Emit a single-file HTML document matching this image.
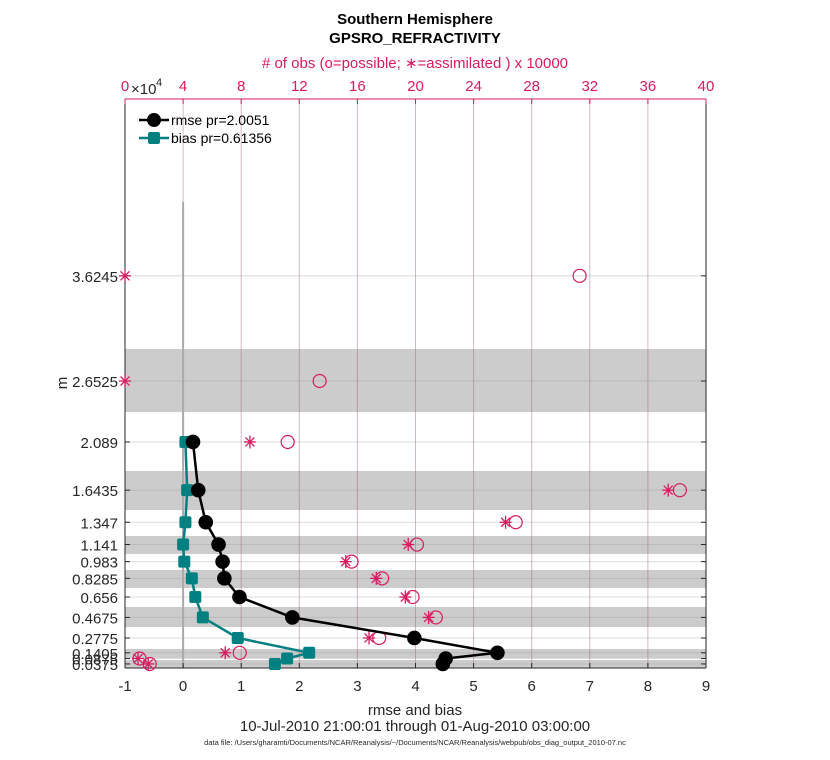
<!DOCTYPE html>
<html><head><meta charset="utf-8"><style>
body{margin:0;background:#fff;}
svg{display:block;font-family:"Liberation Sans",Arial,sans-serif;}
</style></head><body>
<svg id="chart" width="830" height="760" viewBox="0 0 830 760"></svg>
<script>
const levels=[3.6245,2.6525,2.089,1.6435,1.347,1.141,0.983,0.8285,0.656,0.4675,0.2775,0.1405,0.0875,0.0375];
const levelLabels=["3.6245","2.6525","2.089","1.6435","1.347","1.141","0.983","0.8285","0.656","0.4675","0.2775","0.1405","0.0875","0.0375"];
const rmse=[null,null,0.17,0.26,0.39,0.61,0.68,0.71,0.97,1.88,3.98,5.41,4.52,4.47];
const bias=[null,null,0.04,0.07,0.04,0.0,0.02,0.15,0.21,0.34,0.94,2.17,1.79,1.58];
const obsPossible=[31.3,13.4,11.2,38.2,26.9,20.1,15.6,17.7,19.8,21.4,17.5,7.9,1.0,1.7];
const obsAssim=[0,0,8.6,37.4,26.2,19.5,15.2,17.3,19.3,20.9,16.8,6.9,0.9,1.6];
const bandLo=[2.365,1.46,1.054,0.739,0.379,0.092,0.0];
const bandHi=[2.948,1.821,1.22,0.906,0.564,0.176,0.074];
const xTicks=[-1,0,1,2,3,4,5,6,7,8,9];
const topTicks=[0,4,8,12,16,20,24,28,32,36,40];

const L=125,R=706,T=99,B=668;
const X=v=>L+(v+1)/10*(R-L);
const XT=v=>L+v/40*(R-L);
const Y=v=>B-v*108.2;
const svg=document.getElementById('chart');
const NS='http://www.w3.org/2000/svg';
function mk(tag,attrs,parent){const e=document.createElementNS(NS,tag);for(const k in attrs)e.setAttribute(k,attrs[k]);(parent||svg).appendChild(e);return e;}
const PINK='#d81b60';

bandLo.forEach((lo,i)=>{const r=mk('rect',{x:L,y:Y(bandHi[i]),width:R-L,height:Y(lo)-Y(bandHi[i]),fill:'#cccccc'});

});
levels.forEach(v=>{const l=mk('line',{x1:L,x2:R,y1:Y(v),y2:Y(v),stroke:'#999',"stroke-opacity":0.35,"stroke-width":1});

});
topTicks.forEach(v=>{const l=mk('line',{x1:XT(v),x2:XT(v),y1:T,y2:B,stroke:'#a0607a',"stroke-opacity":0.45,"stroke-width":1});

});
const zl=mk('line',{x1:X(0),x2:X(0),y1:202,y2:B,stroke:'#aaa',"stroke-width":2});


const ax=mk('g',{});


mk('line',{x1:L,x2:L,y1:T,y2:B,stroke:'#262626'},ax);
mk('line',{x1:R,x2:R,y1:T,y2:B,stroke:'#262626'},ax);
mk('line',{x1:L,x2:R,y1:B,y2:B,stroke:'#262626'},ax);
mk('line',{x1:L,x2:R,y1:T,y2:T,stroke:PINK},ax);
xTicks.forEach(v=>{mk('line',{x1:X(v),x2:X(v),y1:B,y2:B-5,stroke:'#262626'},ax);
const t=mk('text',{x:X(v),y:691,"text-anchor":"middle","font-size":15,fill:'#262626'},ax);t.textContent=v;

});
topTicks.forEach(v=>{mk('line',{x1:XT(v),x2:XT(v),y1:T,y2:T+5,stroke:PINK},ax);
const t=mk('text',{x:XT(v),y:91,"text-anchor":"middle","font-size":15,fill:PINK},ax);t.textContent=v;

});
levels.forEach((v,i)=>{mk('line',{x1:L,x2:L+5,y1:Y(v),y2:Y(v),stroke:'#262626'},ax);mk('line',{x1:R,x2:R-5,y1:Y(v),y2:Y(v),stroke:'#262626'},ax);
const t=mk('text',{x:118,y:Y(v)+6,"text-anchor":"end","font-size":15,fill:'#262626'},ax);t.textContent=levelLabels[i];

});
obsPossible.forEach((v,i)=>{const c=mk('circle',{cx:XT(v),cy:Y(levels[i]),r:6.5,fill:'none',stroke:PINK,"stroke-width":1.2});

});
obsAssim.forEach((v,i)=>{const g=mk('g',{transform:`translate(${XT(v)},${Y(levels[i])})`,stroke:PINK,"stroke-width":1.3});


mk('line',{x1:-6,x2:6,y1:0,y2:0},g);mk('line',{x1:0,x2:0,y1:-6.5,y2:6.5},g);mk('line',{x1:-4.5,x2:4.5,y1:-4.5,y2:4.5},g);mk('line',{x1:-4.5,x2:4.5,y1:4.5,y2:-4.5},g);});
function series(vals,color,name,marker){
 const pts=[];vals.forEach((v,i)=>{if(v!==null)pts.push([X(v),Y(levels[i])]);});
 const p=mk('polyline',{points:pts.map(p=>p.join(',')).join(' '),fill:'none',stroke:color,"stroke-width":2.5});
 
 
 pts.forEach(q=>{let m;
  if(marker==='c')m=mk('circle',{cx:q[0],cy:q[1],r:7.3,fill:color});
  else m=mk('rect',{x:q[0]-6,y:q[1]-6,width:12,height:12,rx:2,fill:color});
  
  });
}
series(bias,'#008080','bias','s');
series(rmse,'#000','rmse','c');
const lg=mk('g',{});


mk('line',{x1:139,x2:169,y1:120,y2:120,stroke:'#000',"stroke-width":2.5},lg);
mk('circle',{cx:154,cy:120,r:7,fill:'#000'},lg);
let t=mk('text',{x:171,y:125,"font-size":14},lg);t.textContent='rmse pr=2.0051';
mk('line',{x1:139,x2:169,y1:138,y2:138,stroke:'#008080',"stroke-width":2.5},lg);
mk('rect',{x:148,y:132,width:12,height:12,rx:2,fill:'#008080'},lg);
t=mk('text',{x:171,y:143,"font-size":14},lg);t.textContent='bias pr=0.61356';
function txt(s,a,name){const e=mk('text',a);e.textContent=s;return e;}
txt('Southern Hemisphere',{x:415,y:24,"text-anchor":"middle","font-size":15,"font-weight":"bold"},'title-line1');
txt('GPSRO_REFRACTIVITY',{x:415,y:43,"text-anchor":"middle","font-size":15,"font-weight":"bold"},'title-line2');
txt('# of obs (o=possible; \u2217=assimilated ) x 10000',{x:415,y:68,"text-anchor":"middle","font-size":15,fill:PINK},'top-axis-title');
txt('\u00d710',{x:131,y:94,"font-size":15,fill:'#262626'},'exponent-label');
txt('4',{x:156,y:86,"font-size":11,fill:'#262626'},'exponent-power');
txt('rmse and bias',{x:415,y:715,"text-anchor":"middle","font-size":15,fill:'#262626'},'x-axis-title');
txt('10-Jul-2010 21:00:01 through 01-Aug-2010 03:00:00',{x:415,y:731,"text-anchor":"middle","font-size":15,fill:'#262626'},'date-range');
txt('data file: /Users/gharamti/Documents/NCAR/Reanalysis/~/Documents/NCAR/Reanalysis/webpub/obs_diag_output_2010-07.nc',{x:415,y:745,"text-anchor":"middle","font-size":7.5,fill:'#262626'},'data-file-note');
txt('m',{x:67,y:383,"text-anchor":"middle","font-size":15,fill:'#262626',transform:'rotate(-90 67 383)'},'y-axis-title');
</script>
</body></html>
